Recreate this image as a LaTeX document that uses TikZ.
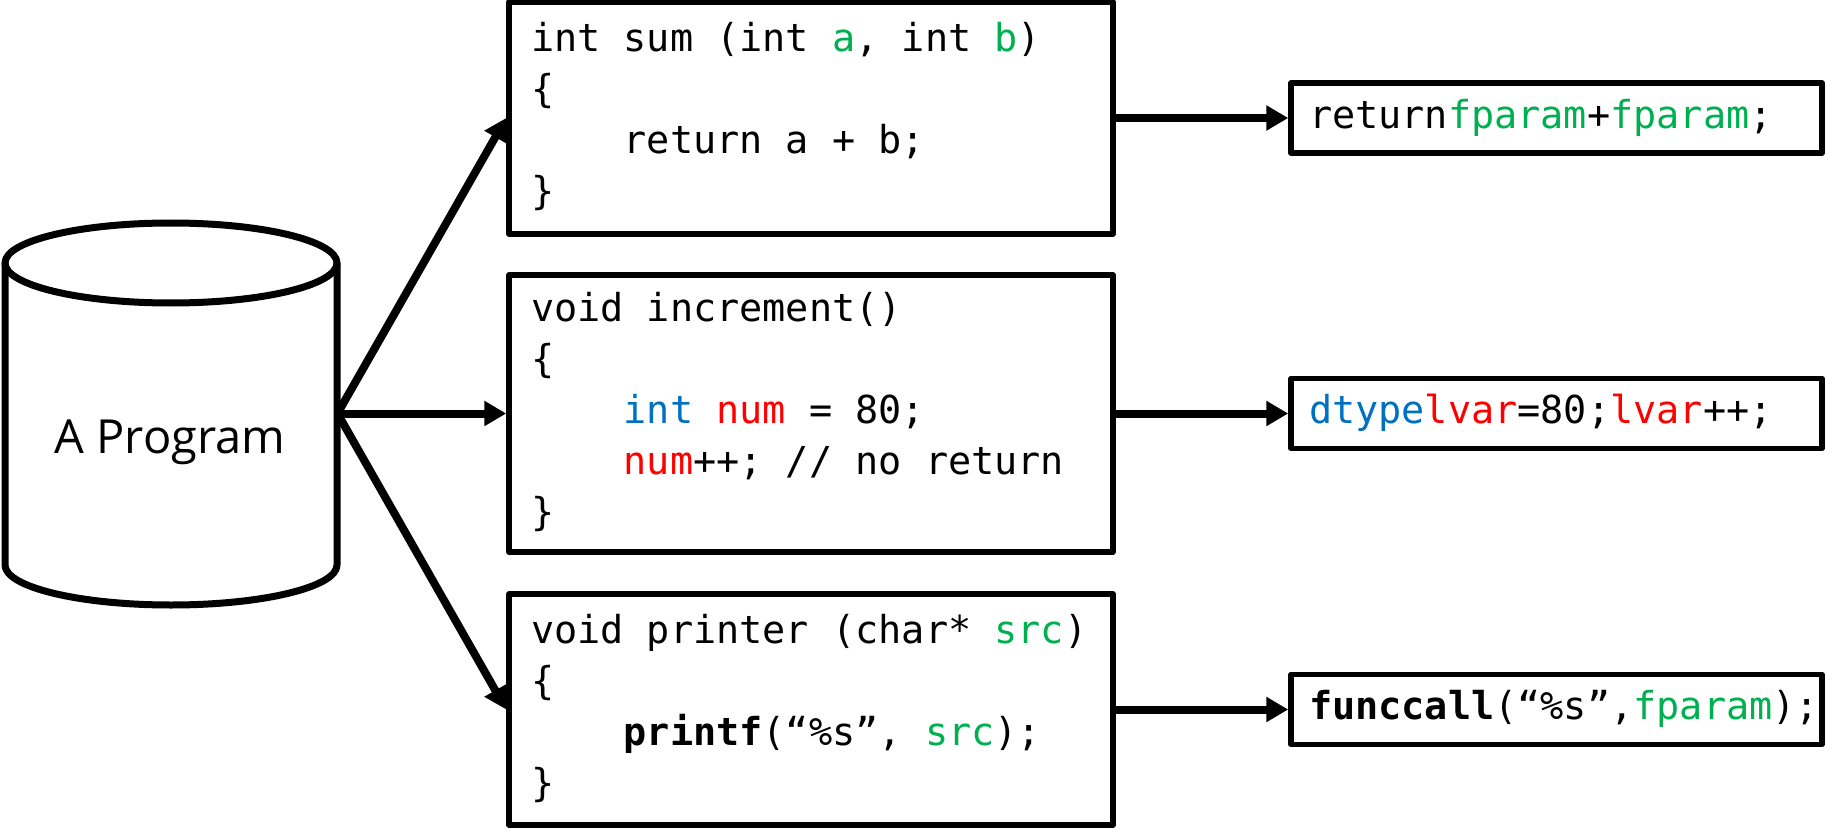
\documentclass[tikz,border=0pt]{standalone}
\usepackage{fontspec}
\usetikzlibrary{arrows.meta}
\newfontfamily\codefont{DejaVu Sans Mono}
\newfontfamily\labelfont{Open Sans}
\definecolor{pgreen}{HTML}{00B050}
\definecolor{lred}{HTML}{FF0000}
\definecolor{tblue}{HTML}{0070C0}
% highlighted tokens: parameters, local variables, data types
\newcommand\pa[1]{\textcolor{pgreen}{#1}}
\newcommand\lv[1]{\textcolor{lred}{#1}}
\newcommand\dt[1]{\textcolor{tblue}{#1}}
\newcommand\tabin{\hphantom{xxxx}}
% interword space as wide as one character of the code font
\newcommand\monosp{\spaceskip=\fontcharwd\font`x\relax\xspaceskip=\spaceskip}
\begin{document}
\begin{tikzpicture}[x=1pt,y=-1pt,
  cyl/.style={line width=7pt, line join=round},
  codebox/.style={draw, line width=5.5pt, line join=round, minimum width=604pt,
    text width=560pt, align=left, inner xsep=22pt, inner ysep=0pt,
    font={\codefont\fontsize{38.5}{51}\selectfont}},
  outbox/.style={draw, line width=5.5pt, line join=round, minimum width=531pt,
    minimum height=70pt, text width=495pt, align=left, inner xsep=18pt, inner ysep=0pt,
    font={\codefont\fontsize{38.5}{51}\selectfont}},
  flow/.style={line width=8pt, -{Triangle[length=22pt,width=24pt]}}
]
\useasboundingbox (0,0) rectangle (1826,829);

% the program store
\draw[cyl] (5,263) -- (5,565) arc[start angle=180, end angle=0, x radius=166, y radius=40] -- (337,263);
\draw[cyl] (171,263) ellipse [x radius=166, y radius=40];
\node[minimum width=333pt, minimum height=383pt, inner sep=0pt, outer sep=0pt] (prog) at (171,413.5) {};
\node[font={\labelfont\fontsize{47}{57}\selectfont}, anchor=base, inner sep=0pt] (progname) at (170,453) {A Program};

% functions of the program
\node[codebox, minimum height=232pt] (sum) at (811,118) {\monosp
\strut int sum (int \pa{a}, int \pa{b})\\
\strut\{\\
\strut\tabin return a + b;\\
\strut\}};

\node[codebox, minimum height=277pt] (incr) at (811,413.5) {\monosp
\strut void increment()\\
\strut\{\\
\strut\tabin\dt{int} \lv{num} = 80;\\
\strut\tabin\lv{num}++; // no return\\
\strut\}};

\node[codebox, minimum height=231pt] (printer) at (811,709.5) {\monosp
\strut void printer (char* \pa{src})\\
\strut\{\\
\strut\tabin\textbf{printf}(“\%s”, \pa{src});\\
\strut\}};

% abstracted token sequences
\node[outbox] (sumout) at (1556.5,118) {\strut return\pa{fparam}+\pa{fparam};};
\node[outbox] (incrout) at (1556.5,413.5) {\strut\dt{dtype}\lv{lvar}=80;\lv{lvar}++;};
\node[outbox] (printerout) at (1556.5,709.5) {\strut\textbf{funccall}(“\%s”,\pa{fparam});};

% connectors
\draw[flow] (prog.east) -- (sum.west);
\draw[flow] (prog.east) -- (incr.west);
\draw[flow] (prog.east) -- (printer.west);
\draw[flow] (sum.east) -- (sumout.west);
\draw[flow] (incr.east) -- (incrout.west);
\draw[flow] (printer.east) -- (printerout.west);
\end{tikzpicture}
\end{document}
